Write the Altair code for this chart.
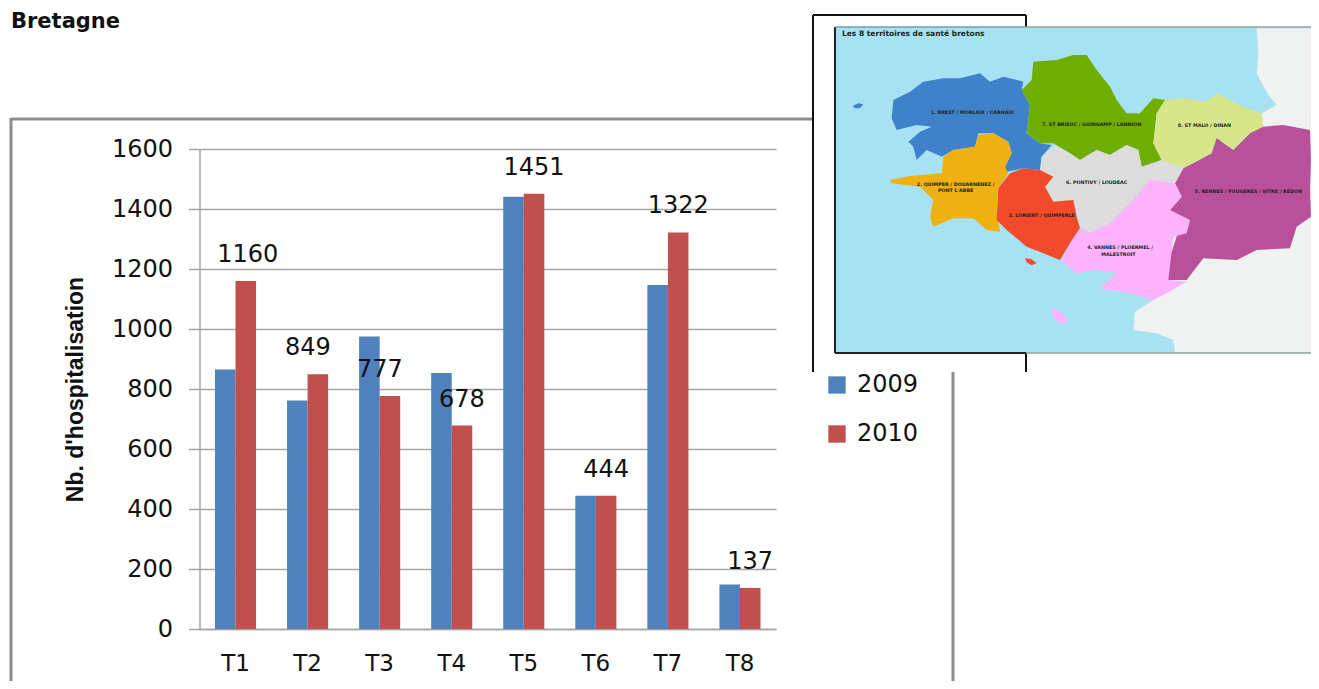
import altair as alt
import pandas as pd

cats = ["T1", "T2", "T3", "T4", "T5", "T6", "T7", "T8"]
v2009 = [865, 762, 975, 853, 1441, 444, 1147, 148]
v2010 = [1160, 849, 777, 678, 1451, 444, 1322, 137]
series = ["2009", "2010"]
colors = ["#4f81bd", "#c0504d"]

rows = [{"t": c, "s": "2009", "v": v} for c, v in zip(cats, v2009)] + \
       [{"t": c, "s": "2010", "v": v} for c, v in zip(cats, v2010)]
df = pd.DataFrame(rows)

OX, OY = 199.5, 149  # page position of the plot origin
W, H = 576.5, 480
def px(x): return x - OX
def py(y): return y - OY

map_regions = [
 ("#f0f1f1", [(1340,55),(1503,55),(1503,1026),(1095,1026),(1090,990),(1040,970),(970,960),(975,905),(1030,870),(1100,800),(1065,700),(1100,500),(1355,310),(1400,285),(1375,255),(1340,190),(1345,130)]),
 ("#3f82c9", [(250,270),(300,245),(340,215),(400,205),(450,205),(510,190),(540,215),(580,200),(640,215),(635,240),(660,285),(650,370),(690,400),(725,405),(695,440),(690,480),(640,475),(590,485),(585,470),(605,430),(595,395),(550,370),(505,370),(495,410),(430,420),(395,440),(350,420),(320,450),(310,410),(295,395),(330,365),(365,350),(320,345),(260,360),(245,325)]),
 ("#3f82c9", [(128,288),(145,280),(160,283),(150,295),(135,295)]),
 ("#eeb111", [(505,375),(550,370),(595,395),(605,430),(585,470),(595,490),(565,535),(560,600),(570,665),(530,660),(490,625),(430,625),(370,650),(360,620),(370,570),(330,530),(245,520),(240,510),(300,498),(395,490),(400,440),(430,420),(495,410)]),
 ("#6fae00", [(670,155),(740,150),(790,135),(830,135),(860,180),(900,230),(920,270),(950,310),(990,310),(1030,265),(1065,270),(1040,310),(1030,400),(1055,450),(995,470),(985,420),(950,405),(900,435),(860,420),(810,450),(780,430),(730,400),(690,400),(650,370),(660,285),(635,240),(665,210)]),
 ("#d8e68a", [(1065,270),(1120,265),(1190,275),(1220,250),(1300,290),(1355,310),(1360,350),(1300,390),(1270,420),(1220,385),(1205,430),(1150,460),(1120,475),(1055,450),(1030,400),(1040,310)]),
 ("#b8509a", [(1320,370),(1360,350),(1420,345),(1500,360),(1503,450),(1500,540),(1503,620),(1460,650),(1440,715),(1340,720),(1280,750),(1180,745),(1130,810),(1065,810),(1080,740),(1100,680),(1080,600),(1115,560),(1095,520),(1120,475),(1150,460),(1205,430),(1220,385),(1270,420),(1300,390)]),
 ("#dcdcdc", [(735,405),(780,430),(810,450),(860,420),(900,435),(950,405),(985,420),(995,470),(1055,450),(1120,475),(1095,520),(1070,530),(1020,510),(960,580),(900,640),(840,670),(810,650),(790,570),(730,575),(705,530),(730,500),(690,480),(695,440)]),
 ("#f24b2c", [(600,490),(640,475),(690,480),(730,500),(705,530),(730,575),(790,570),(800,620),(810,655),(780,700),(750,750),(700,730),(650,710),(590,660),(560,630),(565,535)]),
 ("#f24b2c", [(645,745),(665,748),(680,760),(665,766),(650,757)]),
 ("#fdb3fb", [(1020,510),(1095,520),(1115,560),(1080,600),(1140,630),(1130,670),(1090,680),(1075,810),(1130,815),(1070,850),(1030,870),(960,850),(870,835),(920,790),(860,780),(800,790),(755,755),(780,700),(810,655),(840,670),(900,640),(960,580)]),
 ("#fdb3fb", [(720,897),(745,900),(775,930),(760,942),(735,930)]),
]
map_labels = [
 ("1. BREST / MORLAIX / CARHAIX", 487, 310),
 ("7. ST BRIEUC / GUINGAMP / LANNION", 845, 346),
 ("8. ST MALO / DINAN", 1183, 347),
 ("2. QUIMPER / DOUARNENEZ /", 437, 525),
 ("PONT L'ABBE", 437, 544),
 ("6. PONTIVY / LOUDEAC", 860, 518),
 ("5. RENNES / FOUGERES / VITRE / REDON", 1315, 547),
 ("3. LORIENT / QUIMPERLE", 695, 618),
 ("4. VANNES / PLOERMEL /", 930, 713),
 ("MALESTROIT", 925, 736),
]

def zx(x): return px(810 + x / 3)
def zy(y): return py(10 + y / 3)

one = pd.DataFrame({"a": [0]})

def rect(x1, y1, x2, y2, color):
    return alt.Chart(one).mark_rect(color=color).encode(
        x=alt.value(px(x1)), x2=alt.value(px(x2)), y=alt.value(py(y1)), y2=alt.value(py(y2)))

def rule(x1, y1, x2, y2, color, w):
    return alt.Chart(one).mark_rule(color=color, strokeWidth=w).encode(
        x=alt.value(px(x1)), x2=alt.value(px(x2)), y=alt.value(py(y1)), y2=alt.value(py(y2)))

def region(color, pts):
    path = "M" + " L".join(f"{x},{y}" for x, y in pts) + " Z"
    # a custom symbol is scaled by sqrt(size)/2: size 4/9 gives the 1/3 scale of the zoom coordinates
    return alt.Chart(one).mark_point(shape=path, size=4 / 9, filled=True, fill=color, opacity=1, strokeWidth=0).encode(
        x=alt.value(px(810)), y=alt.value(py(10)))

x_enc = alt.X("t:N", sort=cats, scale=alt.Scale(paddingInner=0.43, paddingOuter=0.215),
              axis=alt.Axis(title=None, labelAngle=0, labelFontSize=23, labelFont="DejaVu Sans", labelColor="#111",
                            ticks=False, labelPadding=23, domainColor="#a6a6a6", domainWidth=1.5, grid=False))
y_enc = alt.Y("v:Q", scale=alt.Scale(domain=[0, 1600], nice=False),
              axis=alt.Axis(values=list(range(0, 1601, 200)), format="d", title="Nb. d'hospitalisation",
                            titleFont="Liberation Sans", titleFontSize=23, titleFontWeight="bold", titleColor="#111",
                            titleAngle=270, titleX=px(87), titleY=py(389), titleAlign="center",
                            labelFontSize=24, labelFont="DejaVu Sans", labelColor="#111", labelPadding=16,
                            tickSize=11, tickColor="#a6a6a6", tickWidth=1.5, gridColor="#a6a6a6", gridWidth=1.5,
                            domainColor="#a6a6a6", domainWidth=1.5))

bars = alt.Chart(df).mark_bar(stroke=None).encode(
    x=x_enc, y=y_enc,
    xOffset=alt.XOffset("s:N", sort=series, scale=alt.Scale(paddingInner=0, paddingOuter=0)),
    fill=alt.Fill("s:N", scale=alt.Scale(domain=series, range=colors),
                  legend=alt.Legend(title=None, orient="none", legendX=px(825), legendY=py(373), symbolType="square",
                                    symbolSize=300, symbolStrokeWidth=0, labelFontSize=24, labelFont="DejaVu Sans",
                                    labelColor="#111", rowPadding=25, labelOffset=8, padding=0, symbolOpacity=1)),
)

def labels(group, dx):
    return alt.Chart(df).transform_filter(alt.datum.s == "2010").transform_filter(
        alt.FieldOneOfPredicate(field="t", oneOf=group)
    ).mark_text(fontSize=24, font="DejaVu Sans", color="#111", dy=-26, dx=dx, align="center", baseline="middle").encode(
        x=alt.X("t:N", sort=cats), y=alt.Y("v:Q"),
        xOffset=alt.XOffset("s:N", sort=series), text="v:Q")

layers = [bars, labels(["T1"], 2), labels(["T2", "T3"], -10), labels(["T4", "T5", "T6", "T7", "T8"], 0)]
# outer frame of the Excel chart
layers += [rule(11, 119, 812, 119, "#8c8c8c", 3), rule(11, 118, 11, 681, "#8c8c8c", 3), rule(953, 372, 953, 681, "#8c8c8c", 3)]
# pasted map
layers += [rect(813, 15, 1026, 372, "#ffffff"), rect(835, 27, 1311, 353, "#a6e2f2")]
layers += [region(c, pts) for c, pts in map_regions]
layers += [rule(813, 15, 1026, 15, "#111", 2), rule(813, 15, 813, 372, "#111", 2), rule(1026, 15, 1026, 27, "#111", 2),
           rule(1026, 353, 1026, 372, "#111", 2), rule(835, 27, 835, 353, "#222", 2), rule(835, 353, 1026, 353, "#222", 2),
           rule(1026, 353, 1311, 353, "#9aa0a0", 1.5), rule(1026, 27, 1311, 27, "#9aa0a0", 1.5), rule(835, 27, 1026, 27, "#7a9aa5", 1.5)]
for txt, x, y in map_labels:
    layers.append(alt.Chart(pd.DataFrame({"a": [txt]})).mark_text(fontSize=4.8, font="DejaVu Sans", fontWeight="bold", color="#222", align="center", baseline="middle").encode(
        x=alt.value(zx(x)), y=alt.value(zy(y)), text="a:N"))
layers.append(alt.Chart(pd.DataFrame({"a": ["Les 8 territoires de santé bretons"]})).mark_text(fontSize=7.5, font="DejaVu Sans", fontWeight="bold", color="#222", align="left", baseline="middle").encode(
    x=alt.value(px(842)), y=alt.value(py(34)), text="a:N"))
layers.append(alt.Chart(pd.DataFrame({"a": ["Bretagne"]})).mark_text(fontSize=21, font="DejaVu Sans", fontWeight="bold", color="#111", align="left", baseline="alphabetic").encode(
    x=alt.value(px(11)), y=alt.value(py(28)), text="a:N"))

chart = alt.layer(*layers).resolve_scale(fill="independent").properties(
    width=W, height=H,
    padding={"left": OX - 8, "top": OY - 8, "right": 1303 - (OX - 8) - W, "bottom": 673 - (OY - 8) - H},
    autosize=alt.AutoSizeParams(type="none"),
).configure_view(stroke=None).configure_axisY(grid=True)

chart.save("out.html", embed_options={"renderer": "svg", "actions": False})
